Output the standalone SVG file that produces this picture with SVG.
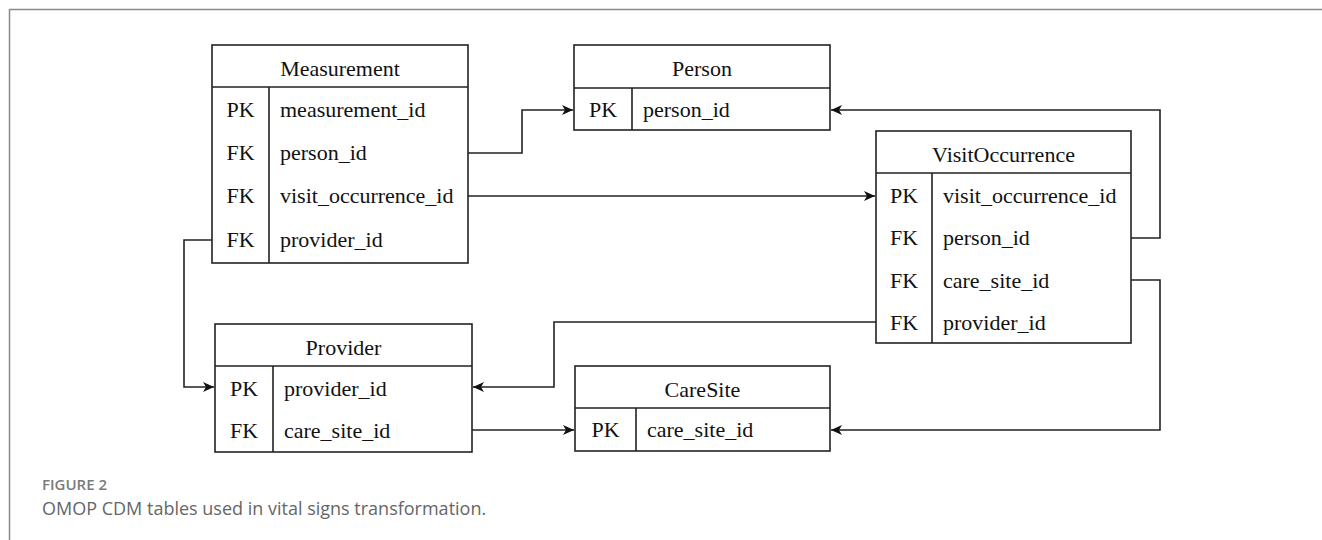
<svg xmlns="http://www.w3.org/2000/svg" width="1322" height="540" viewBox="0 0 1322 540">
<style>
.box{fill:#fff;stroke:#222;stroke-width:1.6}
.ln{fill:none;stroke:#222;stroke-width:1.6}
.t{font-family:"Liberation Serif","Times New Roman",serif;font-size:22px;fill:#111}
.c{text-anchor:middle}
.edge{fill:none;stroke:#222;stroke-width:1.6;marker-end:url(#arr)}
.frame{fill:none;stroke:#8a8a8a;stroke-width:1.5}
.fig{font-family:"Open Sans","Noto Sans",sans-serif;font-size:15px;font-weight:600;fill:#7a7a7a}
.cap{font-family:"Open Sans","Noto Sans",sans-serif;font-size:18px;fill:#666}
</style>
<defs>
<marker id="arr" markerWidth="12" markerHeight="10" refX="11" refY="5" orient="auto" markerUnits="userSpaceOnUse">
<path d="M0,0 L11,5 L0,10 L3,5 Z" fill="#111"/>
</marker>
</defs>
<rect width="1322" height="540" fill="#fff"/>
<path class="frame" d="M1322,9.5 H9.5 V540"/>

<g id="connectors">
<path class="edge" d="M468,153 H522 V110 H573"/>
<path class="edge" d="M468,196 H875"/>
<path class="edge" d="M212,240 H184 V387 H214"/>
<path class="edge" d="M1131,238 H1160 V110 H831"/>
<path class="edge" d="M1131,280 H1160 V430 H831"/>
<path class="edge" d="M876,322 H554 V387 H473"/>
<path class="edge" d="M472,430 H574"/>
</g>

<g id="measurement">
<rect class="box" x="212" y="45" width="256" height="218"/>
<path class="ln" d="M212,87 H468 M269,87 V263"/>
<text class="t c" x="340" y="76">Measurement</text>
<text class="t c" x="240.5" y="117">PK</text><text class="t" x="280" y="117">measurement_id</text>
<text class="t c" x="240.5" y="160">FK</text><text class="t" x="280" y="160">person_id</text>
<text class="t c" x="240.5" y="203">FK</text><text class="t" x="280" y="203">visit_occurrence_id</text>
<text class="t c" x="240.5" y="247">FK</text><text class="t" x="280" y="247">provider_id</text>
</g>

<g id="person">
<rect class="box" x="574" y="45" width="256" height="85"/>
<path class="ln" d="M574,88 H830 M632,88 V130"/>
<text class="t c" x="702" y="76">Person</text>
<text class="t c" x="603" y="117">PK</text><text class="t" x="643" y="117">person_id</text>
</g>

<g id="visitoccurrence">
<rect class="box" x="876" y="131" width="255" height="212"/>
<path class="ln" d="M876,173 H1131 M932,173 V343"/>
<text class="t c" x="1003.5" y="162">VisitOccurrence</text>
<text class="t c" x="904" y="203">PK</text><text class="t" x="943" y="203">visit_occurrence_id</text>
<text class="t c" x="904" y="245">FK</text><text class="t" x="943" y="245">person_id</text>
<text class="t c" x="904" y="288">FK</text><text class="t" x="943" y="288">care_site_id</text>
<text class="t c" x="904" y="330">FK</text><text class="t" x="943" y="330">provider_id</text>
</g>

<g id="provider">
<rect class="box" x="215" y="324" width="257" height="128"/>
<path class="ln" d="M215,366 H472 M273,366 V452"/>
<text class="t c" x="343.5" y="355">Provider</text>
<text class="t c" x="244" y="396">PK</text><text class="t" x="284" y="396">provider_id</text>
<text class="t c" x="244" y="438">FK</text><text class="t" x="284" y="438">care_site_id</text>
</g>

<g id="caresite">
<rect class="box" x="575" y="366" width="255" height="85"/>
<path class="ln" d="M575,408 H830 M636,408 V451"/>
<text class="t c" x="702.5" y="397">CareSite</text>
<text class="t c" x="605.5" y="437">PK</text><text class="t" x="647" y="437">care_site_id</text>
</g>

<text class="fig" x="42" y="490">FIGURE 2</text>
<text class="cap" x="42" y="515">OMOP CDM tables used in vital signs transformation.</text>
</svg>
